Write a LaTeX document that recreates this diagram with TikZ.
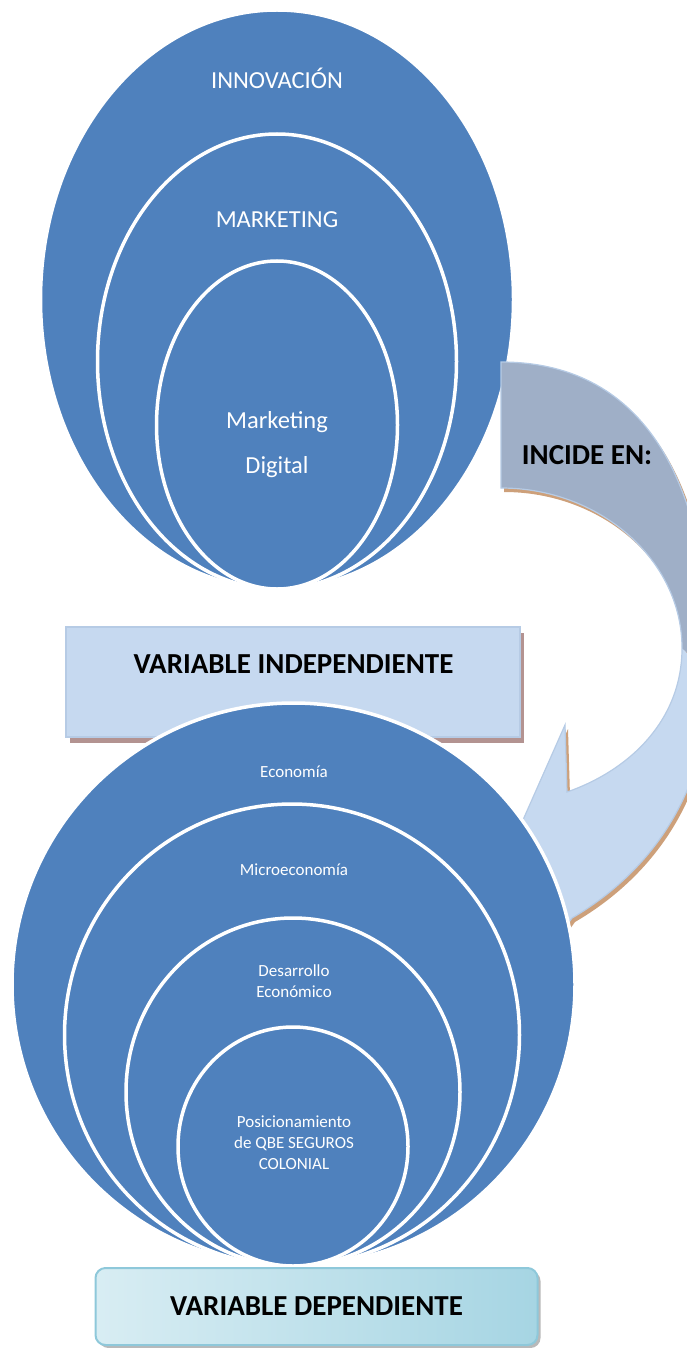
\documentclass[tikz,border=0pt]{standalone}
\usepackage{fontspec}
\setmainfont{Carlito}
\usetikzlibrary{shapes.geometric,shadows,positioning}

\definecolor{ringblue}{HTML}{4F81BD}
\definecolor{boxblue}{HTML}{C6D9F0}
\definecolor{boxedge}{HTML}{B6CBE5}
\definecolor{boxshade}{HTML}{B39391}
\definecolor{arrowgray}{HTML}{9FAFC7}
\definecolor{arrowshade}{HTML}{CDA07A}
\definecolor{depleft}{HTML}{D8EDF3}
\definecolor{depmid}{HTML}{D4ECF3}
\definecolor{depright}{HTML}{A6D5E3}
\definecolor{depedge}{HTML}{8EC8DA}

\newcommand{\incidepath}{(501,362) .. controls (637,362) and (710,470) .. (710,672)
  .. controls (710,810) and (632,883) .. (572,918) -- (556,940) -- (515,838) -- (565,725) -- (567,792)
  .. controls (630,770) and (682,720) .. (682,648) .. controls (682,560) and (600,488) .. (501,488) -- cycle}

\begin{document}
\begin{tikzpicture}[x=1pt,y=-1pt,
  ring/.style={ellipse,fill=ringblue,draw=white,line width=3.5pt,inner sep=0pt},
  ringtext/.style={text=white,align=center,font=\fontsize{24.5}{45}\selectfont},
  smalltext/.style={text=white,align=center,font=\fontsize{17}{21}\selectfont},
  boldtext/.style={font=\fontsize{29}{35}\selectfont\bfseries},
  varbox/.style={fill=boxblue,draw=boxedge,line width=1.5pt,minimum width=454pt,minimum height=110pt,
    drop shadow={shadow xshift=4pt,shadow yshift=-6pt,fill=boxshade,opacity=1}},
  depbox/.style={rounded corners=10pt,draw=depedge,line width=2pt,
    left color=depleft,middle color=depmid,right color=depright,
    minimum width=442pt,minimum height=77pt,
    drop shadow={shadow xshift=3pt,shadow yshift=-3pt,fill=gray!55,opacity=1}}]
 \useasboundingbox (0,0) rectangle (687,1348);

 \node[ring,minimum width=473pt,minimum height=579pt] (innov) at (277,299.5) {};
 \node[ring,minimum width=359pt,minimum height=455pt] (mkt) at (277,361.5) {};
 \node[ring,minimum width=241pt,minimum height=328pt] (mktd) at (277,425) {};
 \node[ringtext] (innovtxt) at (277,78) {INNOVACIÓN};
 \node[ringtext] (mkttxt) at (277,220) {MARKETING};
 \node[ringtext] (mktdtxt) at (277,445) {Marketing\\Digital};

 \fill[arrowshade,shift={(3,4)}] \incidepath;
 \begin{scope}
  \clip (470,340) -- (720,340) -- (720,680) -- (680,647) -- (470,647) -- cycle;
  \fill[arrowgray] \incidepath;
 \end{scope}
 \begin{scope}
  \clip (470,647) -- (680,647) -- (720,680) -- (720,960) -- (470,960) -- cycle;
  \fill[boxblue] \incidepath;
 \end{scope}
 \draw[boxedge,line width=1.2pt] \incidepath;
 \node[boldtext] (incide) at (587,455) {INCIDE EN:};

 \node[varbox] (indep) at (293,682) {};
 \node[boldtext] (indeptxt) at (293.5,664) {VARIABLE INDEPENDIENTE};

 \node[ring,minimum width=563pt,minimum height=563pt] (econ) at (293.5,984.5) {};
 \node[ring,minimum width=455pt,minimum height=462pt] (micro) at (292,1035) {};
 \node[ring,minimum width=334pt,minimum height=348pt] (desa) at (293,1092) {};
 \node[ring,minimum width=230pt,minimum height=239pt] (posi) at (293,1146.5) {};
 \node[smalltext] (econtxt) at (294,772) {Economía};
 \node[smalltext] (microtxt) at (294,870) {Microeconomía};
 \node[smalltext] (desatxt) at (294,981) {Desarrollo\\Económico};
 \node[smalltext] (positxt) at (294,1143) {Posicionamiento\\de QBE SEGUROS\\COLONIAL};

 \node[depbox,boldtext] (dep) at (316.5,1306.5) {VARIABLE DEPENDIENTE};
\end{tikzpicture}
\end{document}
